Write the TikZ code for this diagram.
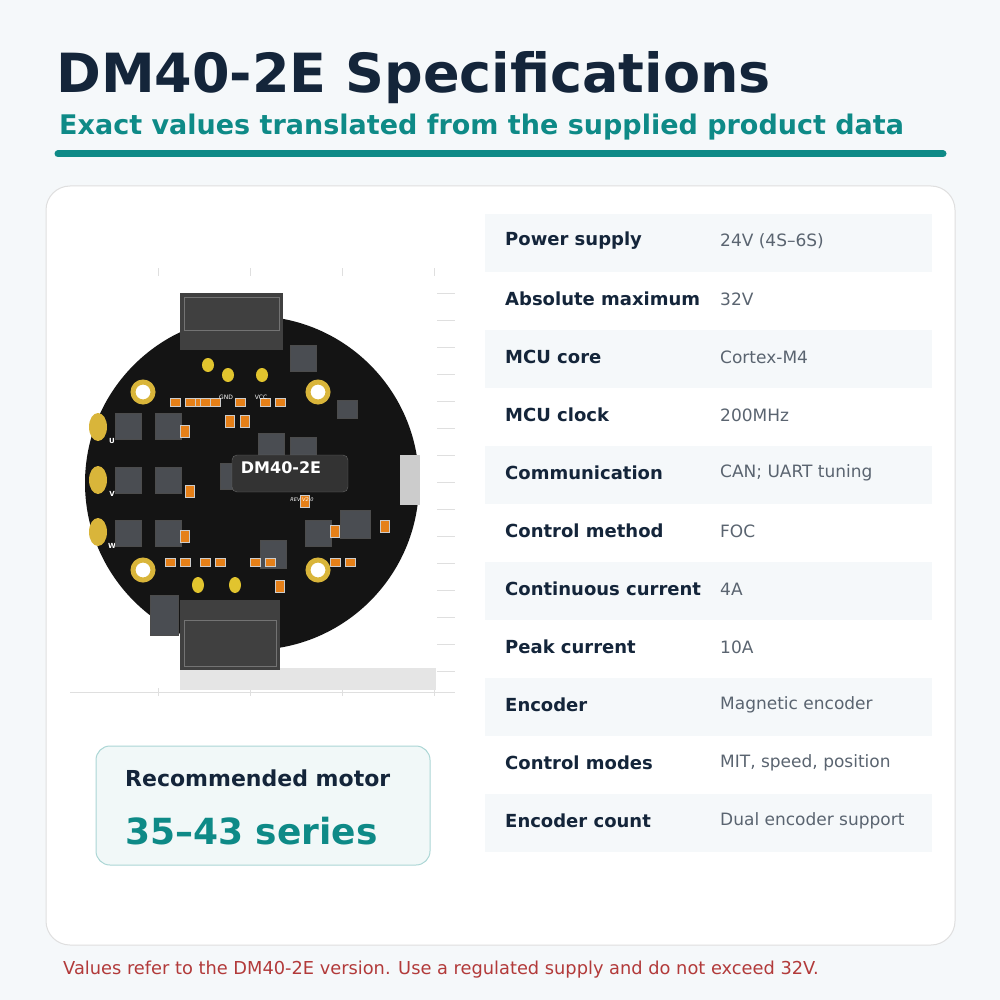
\documentclass[tikz,border=0pt]{standalone}
\usepackage{fontspec}
\setmainfont{DejaVu Sans}
\begin{document}
\begin{tikzpicture}[x=1pt,y=-1pt,
  lab/.style={anchor=west,inner sep=0pt,font=\fontsize{18}{20}\selectfont\bfseries,text=titlec},
  val/.style={anchor=west,inner sep=0pt,font=\fontsize{17}{20}\selectfont,text=valc},
  chip/.style={fill=chipc,draw=black!70,line width=0.6pt},
  smd/.style={fill=orange!60!brown,draw=gray!40,line width=0.8pt},
  hole/.style={fill=white,draw=goldc,line width=5pt},
  pad/.style={fill=goldc}]
\definecolor{bg}{HTML}{F5F8FA}
\definecolor{teal}{HTML}{0E8A87}
\definecolor{titlec}{HTML}{14253A}
\definecolor{valc}{HTML}{5A6470}
\definecolor{rowc}{HTML}{F5F8FA}
\definecolor{chipc}{HTML}{4A4D52}
\definecolor{goldc}{HTML}{D9B53A}
\definecolor{redc}{HTML}{B23A3A}
\useasboundingbox (0,0) rectangle (1000,1000);
\fill[bg] (0,0) rectangle (1000,1000);
\node[anchor=west,inner sep=0pt,font=\fontsize{54}{60}\selectfont\bfseries,text=titlec] (title) at (56,78) {DM40-2E Specifications};
\node[anchor=west,inner sep=0pt,font=\fontsize{27}{30}\selectfont\bfseries,text=teal] (sub) at (59,127) {Exact values translated from the supplied product data};
\draw[teal,line width=7pt,line cap=round] (58,154) -- (943,154);
\draw[fill=white,draw=gray!25,line width=1pt,rounded corners=24pt] (46,186) rectangle (955,945);
% grid
\foreach \x in {158,250,342,434} \draw[gray!25] (\x,268) -- (\x,276) (\x,688) -- (\x,696);
\foreach \y in {293,320,347,374,401,428,455,482,509,536,563,590,617,644,671} \draw[gray!25] (437,\y) -- (455,\y);
\draw[gray!25] (70,692) -- (455,692);
\fill[gray!20] (180,668) rectangle (436,690);
% board
\fill[black!92] (252,483) circle (167);
\fill[white] (110,355) circle (14) (395,355) circle (14) (110,610) circle (14) (395,610) circle (14);
\foreach \p in {(143,392),(318,392),(143,570),(318,570)} \draw[hole] \p circle (10);
\foreach \y/\t in {427/U,480/V,532/W} {\fill[pad] (98,\y) ellipse (9 and 14); \node[font=\fontsize{7}{8}\selectfont\bfseries,text=white] at (112,\y+14) {\t};}
\foreach \x/\y in {115/413,155/413,115/467,155/467,115/520,155/520,290/345,290/437,220/463,305/520,258/433}
  \draw[chip] (\x,\y) rectangle ++(26,26);
\draw[chip] (337,400) rectangle ++(20,18);
\draw[chip] (260,540) rectangle ++(26,28);
\draw[chip] (340,510) rectangle ++(30,28);
\draw[chip] (150,595) rectangle ++(28,40);
\foreach \x in {170,185,195,210,235,200,260,275} \draw[smd] (\x,398) rectangle ++(10,8);
\foreach \x in {165,180,200,215,250,265,330,345} \draw[smd] (\x,558) rectangle ++(10,8);
\foreach \x/\y in {225/415,240/415,180/425,185/485,180/530,330/525,380/520,300/495,320/465,275/580} \draw[smd] (\x,\y) rectangle ++(9,12);
\foreach \x/\y in {228/375,262/375,208/365} \fill[goldc!80!yellow] (\x,\y) ellipse (6 and 7);
\foreach \x/\y in {198/585,235/585} \fill[goldc!80!yellow] (\x,\y) ellipse (6 and 8);
\node[font=\fontsize{6}{7}\selectfont,text=white] at (226,397) {GND};
\node[font=\fontsize{6}{7}\selectfont,text=white] at (261,397) {VCC};
\fill[black!75] (180,293) rectangle (283,350);
\draw[black!55,line width=1pt] (184,297) rectangle (279,330);
\fill[black!75] (180,600) rectangle (280,670);
\draw[black!55,line width=1pt] (184,620) rectangle (276,666);
\fill[gray!40] (400,455) rectangle (420,505);
\draw[fill=black!80,rounded corners=5pt,draw=black!60] (232,455) rectangle (348,492);
\node[font=\fontsize{16}{18}\selectfont\bfseries,text=white] (chipname) at (281,468) {DM40-2E};
\node[font=\fontsize{5}{6}\selectfont\itshape,text=white] at (302,500) {REV V2.0};
% table
\foreach \i/\l/\v in {0/Power supply/24V (4S–6S),1/Absolute maximum/32V,2/MCU core/Cortex-M4,3/MCU clock/200MHz,4/Communication/CAN; UART tuning,5/Control method/FOC,6/Continuous current/4A,7/Peak current/10A,8/Encoder/Magnetic encoder,9/Control modes/{MIT, speed, position},10/Encoder count/Dual encoder support} {
  \pgfmathsetmacro{\yy}{214+58*\i}
  \pgfmathparse{int(mod(\i,2))}
  \ifnum\pgfmathresult=0 \fill[rowc] (485,\yy) rectangle (932,\yy+58); \fi
  \node[lab] (l\i) at (505,\yy+27) {\l};
  \node[val] (v\i) at (720,\yy+27) {\v};
}
\draw[fill=teal!6,draw=teal!35,line width=1pt,rounded corners=14pt] (96,746) rectangle (430,865);
\node[anchor=west,inner sep=0pt,font=\fontsize{22}{24}\selectfont\bfseries,text=titlec] (rec) at (125,778) {Recommended motor};
\node[anchor=west,inner sep=0pt,font=\fontsize{36}{40}\selectfont\bfseries,text=teal] (ser) at (125,831) {35–43 series};
\node[anchor=west,inner sep=0pt,font=\fontsize{17.8}{20}\selectfont,text=redc] (foot) at (63,970) {Values refer to the DM40-2E version. Use a regulated supply and do not exceed 32V.};
\end{tikzpicture}
\end{document}
